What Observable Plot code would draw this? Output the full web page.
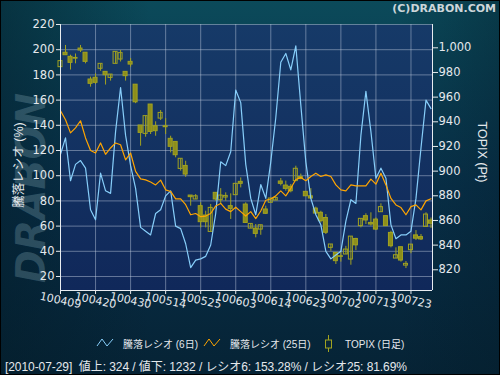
<!DOCTYPE html>
<html><head><meta charset="utf-8">
<script src="https://cdn.jsdelivr.net/npm/d3@7"></script>
<script src="https://cdn.jsdelivr.net/npm/@observablehq/plot@0.6"></script>
<style>
html,body{margin:0;padding:0;background:#072434;overflow:hidden;}
#chart{width:500px;height:375px;}
</style>
</head><body><div id="chart"></div>
<script>
// ---- data ----
const tickLabels = ["100409","100420","100430","100514","100525","100603","100614","100623","100702","100713","100723"];
const tickIndex = [0,7,14,21,28,35,42,49,56,63,70];
const leftTicks = [20,40,60,80,100,120,140,160,180,200,220];
const rightTicks = [820,840,860,880,900,920,940,960,980,1000];

const ratio6 = [117,130,96,109,112,106,73,65,102,88,86,135,170,132,108,90,59,56,53,70,73,84,88,60,58,46,27,33,34,36,45,70,111,108,119,168,158,109,82,69,93,82,111,146,190,197,184,203,156,111,82,69,61,40,34,37,40,64,81,78,132,167,135,98,106,98,61,50,53,53,56,82,122,160,153.28];
const ratio25 = [151.6,144.4,134,138,143.6,130,120,118,126,117,122,126,124.6,112.6,118,103.4,97.5,96.7,95,92.7,96.5,88.8,87.5,81.6,81.6,77,69,70,67.5,68,70,76,78,73.5,71.5,75,71.5,68,71.5,66,72,80.5,81.5,84,88,84,90,97,98.5,96,99.4,102,99.4,100.7,99.4,92.7,88.8,88,92.7,92,92,92,97.3,93.3,102,92.7,82,76.8,74.7,69,75.5,76.8,72.9,80,81.69];
const topixOpen  = [984.3,996,992.7,991.8,999.4,996,974.3,975.7,983,980.5,975.6,987,990.5,980.5,988.6,970.1,937,930.2,954,936.4,942.6,936.4,926.2,923.7,901.8,904.2,880.2,877,871.6,864,850.7,882.4,876.4,878.6,871.6,880.5,891.3,872.9,853.4,853.4,852.6,868.9,874.3,876.2,891.6,888.3,887.3,891.9,895.2,883.2,879.6,869.6,866.2,862,837.8,833.7,831,832.4,828.3,845,855.4,863.5,858,860.7,866.7,863.5,849.9,829.1,838.3,823.4,835.9,847.9,846.5,854.8,860];
const topixHigh  = [989.5,1001.9,994,995,1001.9,996,976.2,979,987,980.5,978.3,996.7,997.8,980.5,991.3,970.1,937,944.6,954,940,949.1,942.6,928.3,923.7,910,908,880.2,881,874.3,867.5,873,882.4,885.8,882.4,881.6,889.7,894.5,874.3,857.2,856.7,856.1,871.6,877.8,878.3,894,891.9,889.2,904,897.6,883.2,885.8,870.8,867.5,864.8,840.5,833.7,834.3,839,846.9,845.5,861.3,865.4,866.2,862,873.5,863.5,851.3,837.8,838.3,826.7,840.4,851.8,848.6,866.2,862];
const topixLow   = [983,994,982,987,996.2,987,968.1,970.3,981,969.8,973,987,988.5,973,984.3,954.7,920.2,927.5,929.7,928.3,941,929.7,914.8,910.8,900,895,871.6,877,854,854,850.7,875.6,873,875.6,860.8,880.5,886.4,857.5,853.4,845.9,848,864.8,874.3,876.2,888,883.7,882.4,891.9,893,879.6,877,864.8,858,848.6,835,824.3,826.2,832.4,823.7,835.5,854,856.7,855.4,851.8,866.7,855.4,837.8,829.1,826.2,821,833,843.7,843.7,854.8,853.5];
const topixClose = [989.2,994,987.8,991.2,997.8,988.6,970.8,971.6,987,977.8,978.3,996.7,995.7,977,986.4,955.8,931,944.6,931.8,932.4,947.2,935.6,919.7,912.9,910,897.2,878.9,879.6,858.6,858.6,870.2,877,880.2,879.9,869.4,889.7,889.7,858,857.2,849.1,856.1,865.4,877.8,878.3,889.7,885.6,883.7,901.9,893.9,879.6,877.8,865.6,859.4,850,840.5,827,830.5,836.4,846.9,839.8,861.3,860,856.7,852.6,870.8,855.4,839.1,831.8,827.5,824.8,840.4,845.2,844.6,864.8,857.3];

// ---- dual-axis mapping (right TOPIX axis onto left ratio scale) ----
const L0 = 8.9, L1 = 220, R0 = 803.2, R1 = 1018.9;
const toLeft = r => L0 + (r - R0) * (L1 - L0) / (R1 - R0);
const toRight = l => R0 + (l - L0) * (R1 - R0) / (L1 - L0);
const X1 = 74.3;

const days = ratio6.map((v, i) => ({
  i, r6: v, r25: ratio25[i],
  o: toLeft(topixOpen[i]), h: toLeft(topixHigh[i]), l: toLeft(topixLow[i]), c: toLeft(topixClose[i]),
  up: topixClose[i] >= topixOpen[i]
}));

const txt = "#e4e8ec";
const grid = "#c8d2e4";
const candleStroke = "#a2a320";
const candleFill = "#8d8e1c";
const tickFont = "DejaVu Sans, Noto Sans CJK JP, sans-serif";

const svg = Plot.plot({
  width: 500, height: 375,
  marginLeft: 60, marginRight: 68, marginTop: 24, marginBottom: 85,
  style: {background: "none", fontFamily: tickFont, overflow: "visible"},
  x: {domain: [0, X1]},
  y: {domain: [L0, L1]},
  marks: [
    Plot.frame({fill: "url(#plotGrad)", stroke: "none"}),
    Plot.gridY(leftTicks, {stroke: grid, strokeOpacity: 0.45}),
    Plot.gridX(tickIndex, {stroke: grid, strokeOpacity: 0.45}),
    Plot.ruleX(days, {x: "i", y1: "l", y2: "h", stroke: candleStroke, strokeWidth: 1}),
    Plot.rect(days.filter(d => !d.up), {x1: d => d.i - 0.4, x2: d => d.i + 0.4, y1: "o", y2: "c", fill: candleFill, stroke: candleStroke, strokeWidth: 1}),
    Plot.rect(days.filter(d => d.up), {x1: d => d.i - 0.4, x2: d => d.i + 0.4, y1: "o", y2: "c", fill: "none", stroke: candleStroke, strokeWidth: 1}),
    Plot.line(days, {x: "i", y: "r6", stroke: "#87cefa", strokeWidth: 1.2}),
    Plot.line(days, {x: "i", y: "r25", stroke: "#ffa500", strokeWidth: 1.2}),
    Plot.ruleX([0, X1], {stroke: "#e8ecf0", strokeWidth: 1}),
    Plot.ruleY([L0], {stroke: "#e8ecf0", strokeWidth: 1}),
    Plot.axisY(leftTicks, {anchor: "left", tickSize: 4, tickPadding: 2, fontSize: 11.5, color: txt, label: null}),
    Plot.axisY(rightTicks.map(toLeft), {anchor: "right", tickSize: 5, tickPadding: 1, fontSize: 11.5, color: txt, label: null,
      tickFormat: d => d3.format(",")(Math.round(toRight(d)))}),
    Plot.axisX(tickIndex, {anchor: "bottom", tickSize: 4, tickFormat: () => "", color: txt, label: null}),
    Plot.text(tickIndex, {x: d => d, text: d => tickLabels[tickIndex.indexOf(d)], frameAnchor: "bottom",
      dy: 10, rotate: 12, textAnchor: "middle", lineAnchor: "middle", fill: txt, fontSize: 11})
  ]
});

const s = d3.select(svg);
s.insert("defs", ":first-child").html(`
  <linearGradient id="bgGrad" x1="0" y1="0" x2="0" y2="1">
    <stop offset="0" stop-color="#0b4a5a"/>
    <stop offset="0.5" stop-color="#08304a"/>
    <stop offset="1" stop-color="#062335"/>
  </linearGradient>
  <linearGradient id="bgSide" x1="0" y1="0" x2="1" y2="0">
    <stop offset="0" stop-color="#031c28" stop-opacity="0.5"/>
    <stop offset="0.3" stop-color="#031c28" stop-opacity="0"/>
    <stop offset="0.8" stop-color="#031c28" stop-opacity="0"/>
    <stop offset="1" stop-color="#031c28" stop-opacity="0.35"/>
  </linearGradient>
  <linearGradient id="plotGrad" x1="0" y1="0" x2="0" y2="1">
    <stop offset="0" stop-color="#163a68"/>
    <stop offset="1" stop-color="#10285a"/>
  </linearGradient>`);
const defsNode = s.select("defs").node();
const bgNode = d3.create("svg:g").node();
defsNode.after(bgNode);
const bg = d3.select(bgNode);
bg.append("rect").attr("width", 500).attr("height", 375).attr("fill", "url(#bgGrad)");
bg.append("rect").attr("width", 500).attr("height", 375).attr("fill", "url(#bgSide)");
bg.append("rect").attr("x", 0.5).attr("y", 0.5).attr("width", 499).attr("height", 374).attr("fill", "none").attr("stroke", "#000");
// watermark
bg.append("text").attr("transform", "translate(31,188) rotate(-90)")
  .attr("text-anchor", "middle").attr("dominant-baseline", "central")
  .attr("font-family", "DejaVu Sans").attr("font-weight", "bold").attr("font-style", "italic")
  .attr("font-size", 40).attr("textLength", 190).attr("lengthAdjust", "spacingAndGlyphs")
  .attr("fill", "#8fb4c0").attr("fill-opacity", 0.28).text("DRABON");

const ov = s.append("g").attr("font-family", "Liberation Sans, Noto Sans CJK JP, sans-serif")
  .attr("fill", txt).attr("text-anchor", "start");
ov.append("text").attr("x", 496).attr("y", 12).attr("text-anchor", "end")
  .attr("font-family", "DejaVu Sans").attr("font-weight", "bold").attr("font-size", 11).attr("fill", "#cdd6da")
  .text("(C)DRABON.COM");
ov.append("text").attr("transform", "translate(19,165) rotate(-90)").attr("text-anchor", "middle")
  .attr("dominant-baseline", "central").attr("font-size", 12.5).text("騰落レシオ (%)");
ov.append("text").attr("transform", "translate(482,152) rotate(90)").attr("text-anchor", "middle")
  .attr("dominant-baseline", "central").attr("font-size", 12.5).text("TOPIX (Pt)");

// legend
const lg = ov.append("g").attr("font-size", 10);
lg.append("polyline").attr("points", "97,346 102,339 107,346 113,339").attr("fill", "none").attr("stroke", "#87cefa");
lg.append("text").attr("x", 123).attr("y", 347.5).text("騰落レシオ (6日)");
lg.append("polyline").attr("points", "204,346 209,339 214,346 220,339").attr("fill", "none").attr("stroke", "#ffa500");
lg.append("text").attr("x", 230).attr("y", 347.5).text("騰落レシオ (25日)");
lg.append("line").attr("x1", 328.5).attr("x2", 328.5).attr("y1", 335).attr("y2", 352).attr("stroke", candleStroke);
lg.append("rect").attr("x", 325.5).attr("y", 340).attr("width", 6).attr("height", 8).attr("fill", "#0a2838").attr("stroke", candleStroke);
lg.append("text").attr("x", 345).attr("y", 347.5).text("TOPIX (日足)");

// status line
ov.append("text").attr("x", 5).attr("y", 371).attr("font-size", 12).attr("textLength", 402)
  .style("white-space", "pre")
  .text("[2010-07-29]  値上: 324 / 値下: 1232 / レシオ6: 153.28% / レシオ25: 81.69%");

document.getElementById("chart").appendChild(svg);
</script>
</body></html>
